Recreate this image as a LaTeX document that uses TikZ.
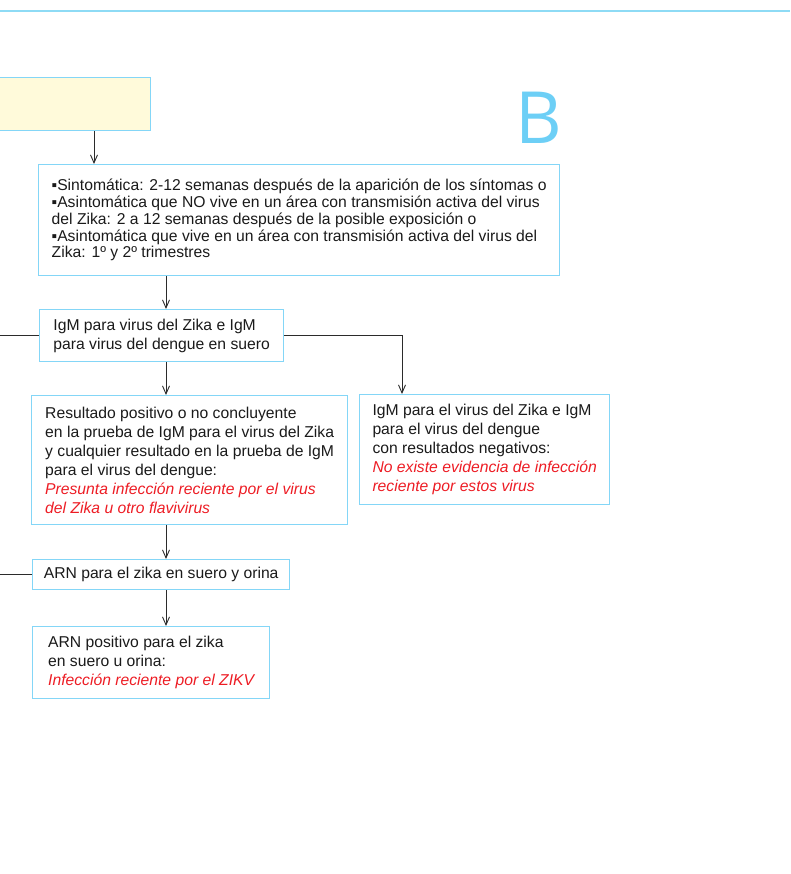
\documentclass[tikz,border=0pt]{standalone}
\usepackage{fontspec}
\setmainfont{Liberation Sans}
\newfontfamily\tagfont{Open Sans}
\usetikzlibrary{arrows.meta,positioning}
\definecolor{frameblue}{HTML}{84D6F7}
\definecolor{ruleblue}{HTML}{8EDBF5}
\definecolor{tagblue}{HTML}{6DCFF6}
\definecolor{paleyellow}{HTML}{FFFADA}
\definecolor{inkblack}{HTML}{1A1A1A}
\definecolor{alertred}{HTML}{ED1C24}
\definecolor{linkgray}{HTML}{2B2B2B}
\begin{document}
\begin{tikzpicture}[x=1pt,y=-1pt]
\tikzset{
    box/.style={draw=frameblue, line width=1.3pt, anchor=north west, align=left,
        inner xsep=0pt, inner ysep=0pt, text=inkblack,
        font=\fontsize{15.7}{19}\selectfont},
    boxT/.style={box, font=\fontsize{15.7}{16.8}\selectfont},
    link/.style={line width=.9pt, color=linkgray},
    linkA/.style={link, -{Straight Barb[length=8pt,width=7pt]}}}
\def\warn#1{{\color{alertred}\itshape #1}}

\useasboundingbox (0,0) rectangle (790,874);

\path (94,0) coordinate(drop);
\path (166,0) coordinate(trunk);
\path (402,0) coordinate(branch);
\path (0,0) coordinate(edge);

\draw[color=ruleblue, line width=2pt] (0,11) -- (790,11);

\node[box, fill=paleyellow, minimum width=160, minimum height=53] (start) at (-10,77) {};
\node[text=tagblue, font=\tagfont\fontsize{72}{72}\selectfont, anchor=base, inner sep=0pt] (tag) at (539,144) {B};

\node[boxT, minimum width=521, minimum height=111] (timing) at (38,164)
    {▪Sintomática: 2-12 semanas después de la aparición de los síntomas o\\
     ▪Asintomática que NO vive en un área con transmisión activa del virus\\
     del Zika: 2 a 12 semanas después de la posible exposición o\\
     ▪Asintomática que vive en un área con transmisión activa del virus del\\
     Zika: 1º y 2º trimestres};

\node[box, minimum width=244, minimum height=52] (igm) at (39,309)
    {IgM para virus del Zika e IgM\\
     para virus del dengue en suero};

\node[box, minimum width=316, minimum height=129] (positive) at (31,395)
    {Resultado positivo o no concluyente\\
     en la prueba de IgM para el virus del Zika\\
     y cualquier resultado en la prueba de IgM\\
     para el virus del dengue:\\
     \warn{Presunta infección reciente por el virus}\\
     \warn{del Zika u otro flavivirus}};

\node[box, minimum width=250, minimum height=110] (negative) at (359,394)
    {IgM para el virus del Zika e IgM\\
     para el virus del dengue\\
     con resultados negativos:\\
     \warn{No existe evidencia de infección}\\
     \warn{reciente por estos virus}};

\node[box, minimum width=257, minimum height=30] (rna) at (32,559)
    {ARN para el zika en suero y orina};

\node[box, minimum width=237, minimum height=72] (rnapos) at (32,626)
    {ARN positivo para el zika\\
     en suero u orina:\\
     \warn{Infección reciente por el ZIKV}};

\draw[linkA] (start.south -| drop) -- (timing.north -| drop);
\draw[linkA] (timing.south -| trunk) -- (igm.north -| trunk);
\draw[linkA] (igm.south -| trunk) -- (positive.north -| trunk);
\draw[linkA] (igm.east) -| (negative.north -| branch);
\draw[linkA] (positive.south -| trunk) -- (rna.north -| trunk);
\draw[linkA] (rna.south -| trunk) -- (rnapos.north -| trunk);
\draw[link] (igm.west) -- (igm.west -| edge);
\draw[link] (rna.west) -- (rna.west -| edge);

\end{tikzpicture}
\end{document}
